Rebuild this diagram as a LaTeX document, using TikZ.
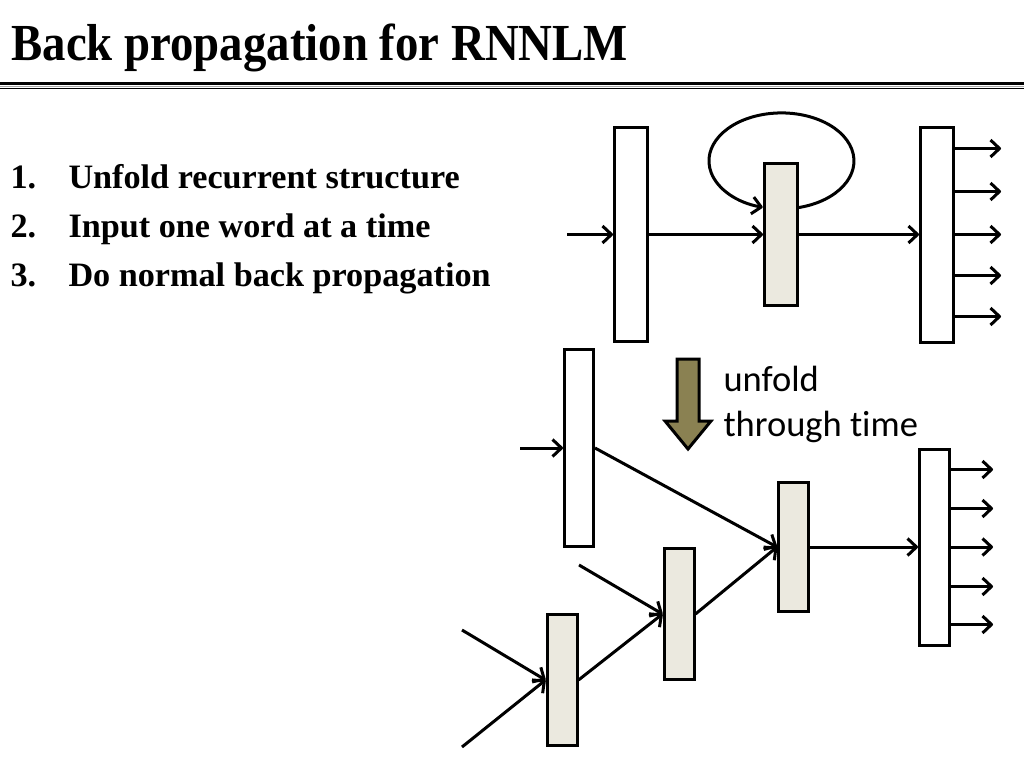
\documentclass[tikz,border=0pt]{standalone}
\usepackage{fontspec}
\setmainfont{Liberation Serif}
\newfontfamily\calibri[RawFeature=-liga]{Carlito}
\usetikzlibrary{arrows.meta,positioning}

\definecolor{hidfill}{HTML}{EBE9DF}
\definecolor{arrowfill}{HTML}{8A8152}

\tikzset{
    layer/.style  = {draw, line width=3pt, fill=white, inner sep=0pt, minimum width=33pt},
    hidden/.style = {layer, fill=hidfill},
    item/.style   = {anchor=base west, inner sep=0pt, font=\bfseries\fontsize{34.2}{40}\selectfont},
    note/.style   = {anchor=base west, inner sep=0pt, font=\calibri\fontsize{36.5}{45}\selectfont},
}

\begin{document}
\begin{tikzpicture}[x=1pt, y=1pt, line width=3pt,
    >={Straight Barb[length=9pt, width=17pt, line width=3pt, line join=round]}]
    \useasboundingbox (0,0) rectangle (1024,-768);

    % Title and rule
    \node [anchor=base west, inner sep=0pt, font=\bfseries\fontsize{52}{60}\selectfont]
        (title) at (10,-60) {\scalebox{0.9}[1]{Back propagation for RNNLM}};
    \draw [line width=3pt]             (0,-83.5) -- (1024,-83.5);
    \draw [line width=1.5pt, gray!70]  (0,-86.3) -- (1024,-86.3);
    \draw [line width=1.2pt]           (0,-88.6) -- (1024,-88.6);

    % Steps
    \node [item] (n1) at (9,-188) {1.};
    \node [item] (t1) at (67,-188) {Unfold recurrent structure};
    \node [item] (n2) at (9,-237) {2.};
    \node [item] (t2) at (67,-237) {Input one word at a time};
    \node [item] (n3) at (9,-286) {3.};
    \node [item] (t3) at (67,-286) {Do normal back propagation};

    % Nodes {in, hid, out} : recurrent net
    \node [layer, minimum height=214pt]  (in)  at (631,-234.5)    {};
    \node [hidden, minimum height=142pt] (hid) [right=114pt of in]  {};
    \node [layer, minimum height=215pt]  (out) [right=120pt of hid] {};
    \coordinate (x0) at (567,-234.5);

    % Paths
    \path [->] (x0)  edge (in.west);
    \path [->] (in.east)  edge (hid.west);
    \path [->] (hid.east) edge (out.west);
    \draw [->] ([yshift=27pt]hid.east) arc [start angle=-76, end angle=255, x radius=72.5, y radius=48];
    \foreach \dy in {86,43,0,-41,-82}
        \draw [->] ([yshift=\dy]out.east) -- ++(46,0);

    % Unfold arrow
    \filldraw [fill=arrowfill, line join=miter]
        (677,-359) -- (699,-359) -- (699,-421) -- (711,-421) -- (688,-449)
        -- (665,-421) -- (677,-421) -- cycle;
    \node [note] (unf1) at (722,-391) {unfold};
    \node [note] (unf2) at (722,-436) {through time};

    % Nodes {inB, h1, h2, h3, outB} : unfolded net
    \node [layer, minimum width=29pt, minimum height=197pt] (inB) at (579,-448)   {};
    \node [hidden, minimum width=30pt, minimum height=131pt] (h1) at (562,-680)   {};
    \node [hidden, minimum width=30pt, minimum height=131pt] (h2) at (679,-614)   {};
    \node [hidden, minimum width=30pt, minimum height=129pt] (h3) at (793.5,-547) {};
    \node [layer, minimum width=30pt, minimum height=196pt] (outB) [right=108pt of h3] {};
    \coordinate (xb) at (520,-448);
    \coordinate (xa) at (462,-630);
    \coordinate (xs) at (462,-747);
    \coordinate (xc) at (579,-565);

    % Paths
    \path [->] (xb) edge (inB.west);
    \path [->] (inB.east) edge (h3.west);
    \path [->] (xa) edge (h1.west);
    \path [->] (xs) edge (h1.west);
    \path [->] (h1.east) edge (h2.west);
    \path [->] (xc) edge (h2.west);
    \path [->] (h2.east) edge (h3.west);
    \path [->] (h3.east) edge (outB.west);
    \foreach \dy in {77.5,38.5,0,-39.5,-77.5}
        \draw [->] ([yshift=\dy]outB.east) -- ++(42,0);

\end{tikzpicture}
\end{document}
